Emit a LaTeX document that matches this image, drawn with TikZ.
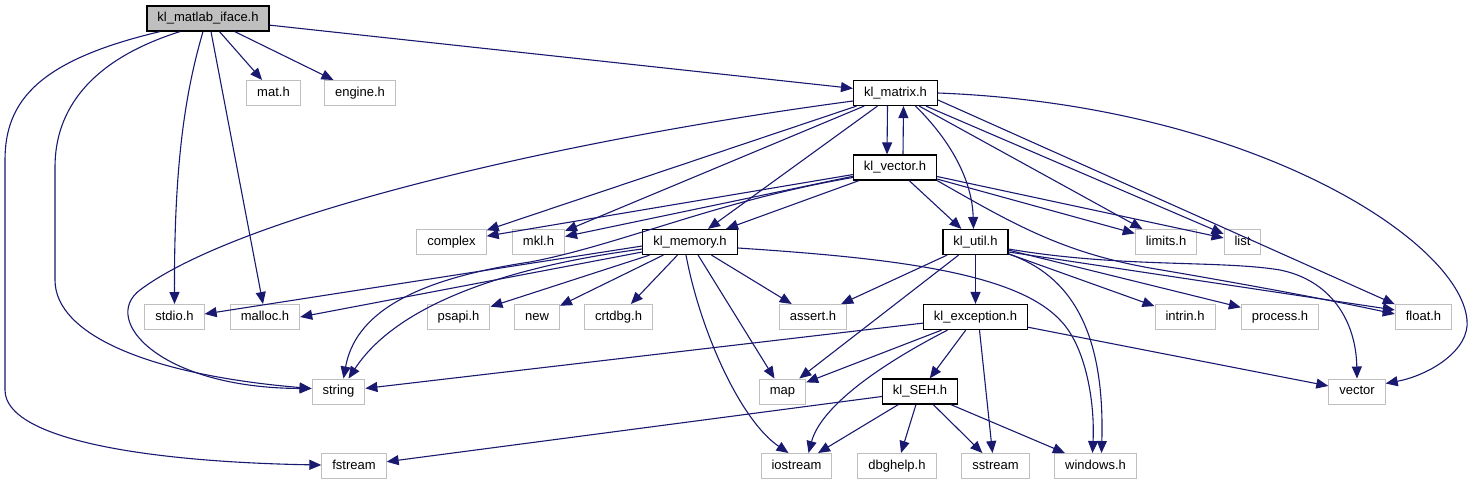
\documentclass[tikz,border=0pt]{standalone}
\usepackage{fontspec}
\setmainfont{Liberation Sans}
\usepackage{tikz}
\usetikzlibrary{arrows.meta}
\definecolor{igedge}{HTML}{191970}
\definecolor{iggray}{HTML}{BFBFBF}
\tikzset{
igfile/.style={rectangle,draw=black,line width=1.2pt,fill=white,inner xsep=10.5pt,inner ysep=0pt,minimum height=25pt,text height=9.4pt,text depth=2.7pt,font=\fontsize{13}{15}\selectfont},
igsys/.style={igfile,draw=iggray,line width=1pt},
igroot/.style={igfile,fill=iggray},
igarr/.style={-{Triangle[length=12pt,width=10pt]},igedge,line width=1.1pt}
}
\begin{document}
\begin{tikzpicture}[
x=1pt,
y=-1pt
]
\useasboundingbox (0,0) rectangle (1474,485);
\node[igroot] (iface) at (208,18.5) {kl\_matlab\_iface.h};
\node[igsys] (mat) at (273.5,93) {mat.h};
\node[igsys] (engine) at (360,93) {engine.h};
\node[igfile] (klmatrix) at (895.5,93) {kl\_matrix.h};
\node[igfile] (klvector) at (895,167.5) {kl\_vector.h};
\node[igsys] (complex) at (451.5,242) {complex};
\node[igsys] (mkl) at (538.5,242) {mkl.h};
\node[igfile] (klmemory) at (690,242) {kl\_memory.h};
\node[igfile] (klutil) at (975.5,242) {kl\_util.h};
\node[igsys] (limits) at (1166,242) {limits.h};
\node[igsys] (list) at (1242.5,242) {list};
\node[igsys] (stdio) at (174.5,317) {stdio.h};
\node[igsys] (malloc) at (265,317) {malloc.h};
\node[igsys] (psapi) at (458.5,317) {psapi.h};
\node[igsys] (new) at (537,317) {new};
\node[igsys] (crtdbg) at (618.5,317) {crtdbg.h};
\node[igsys] (assert) at (813,317) {assert.h};
\node[igfile] (klexception) at (975.5,317) {kl\_exception.h};
\node[igsys] (intrin) at (1185,317) {intrin.h};
\node[igsys] (process) at (1280,317) {process.h};
\node[igsys] (float) at (1423.5,317) {float.h};
\node[igsys] (string) at (338.5,391.5) {string};
\node[igsys] (map) at (782.5,391.5) {map};
\node[igfile] (klseh) at (920,391.5) {kl\_SEH.h};
\node[igsys] (vector) at (1357,391.5) {vector};
\node[igsys] (fstream) at (354,466) {fstream};
\node[igsys] (iostream) at (796.5,466) {iostream};
\node[igsys] (dbghelp) at (897,466) {dbghelp.h};
\node[igsys] (sstream) at (995.5,466) {sstream};
\node[igsys] (windows) at (1095.5,466) {windows.h};
\draw[igarr] (iface)--(klmatrix);
\draw[igarr] (iface)--(mat);
\draw[igarr] (iface)--(engine);
\draw[igarr] ([xshift=-5pt]iface.south) .. controls (186,90) and (174,160) .. (stdio.north);
\draw[igarr] ([xshift=3pt]iface.south) -- ([xshift=-2pt]malloc.north);
\draw[igarr] ([xshift=-28pt]iface.south) .. controls (90,60) and (55,110) .. (55,167) -- (55,280) .. controls (55,335) and (150,375) .. ([yshift=3pt]string.west);
\draw[igarr] ([xshift=-48pt]iface.south) .. controls (40,60) and (5,100) .. (5,160) -- (5,390) .. controls (5,440) and (150,462) .. ([yshift=1pt]fstream.west);
\draw[igarr] ([xshift=-8pt]klmatrix.south) -- ([xshift=-8pt]klvector.north);
\draw[igarr] ([xshift=8pt]klvector.north) -- ([xshift=8pt]klmatrix.south);
\draw[igarr] ([yshift=-8pt]klmatrix.west) .. controls (560,140) and (240,215) .. (140,290) .. controls (100,320) and (160,388) .. ([yshift=3pt]string.west);
\draw[igarr] (klmatrix)--(complex);
\draw[igarr] (klmatrix)--(mkl);
\draw[igarr] (klmatrix)--(klmemory);
\draw[igarr] ([xshift=20pt]klmatrix.south) .. controls (945,135) and (972,175) .. ([xshift=-2pt]klutil.north);
\draw[igarr] (klmatrix)--(limits);
\draw[igarr] (klmatrix)--(list);
\draw[igarr] ([yshift=-7pt]klmatrix.east)--(float);
\draw[igarr] (klmatrix.east) .. controls (1250,105) and (1460,240) .. (1467,320) .. controls (1470,350) and (1430,375) .. ([yshift=8pt]vector.east);
\draw[igarr] (klvector)--(complex);
\draw[igarr] (klvector)--(mkl);
\draw[igarr] (klvector)--(klmemory);
\draw[igarr] ([yshift=-10pt]klvector.west) .. controls (720,200) and (620,245) .. (530,262) .. controls (410,280) and (355,315) .. ([xshift=5pt]string.north);
\draw[igarr] (klvector)--(klutil);
\draw[igarr] (klvector)--(limits);
\draw[igarr] (klvector)--(list);
\draw[igarr] (klvector.south east) .. controls (1010,222) and (1060,252) .. (1150,268) .. controls (1250,285) and (1330,300) .. ([yshift=3pt]float.west);
\draw[igarr] ([yshift=-4pt]klmemory.west) -- ([yshift=3pt]stdio.east);
\draw[igarr] ([yshift=-10pt]klmemory.west) -- (malloc.east);
\draw[igarr] ([yshift=-7pt]klmemory.west) .. controls (520,265) and (400,300) .. ([xshift=10pt]string.north);
\draw[igarr] (klmemory)--(psapi);
\draw[igarr] (klmemory)--(new);
\draw[igarr] (klmemory)--(crtdbg);
\draw[igarr] (klmemory)--(assert);
\draw[igarr] (klmemory)--(map);
\draw[igarr] ([xshift=-4pt]klmemory.south) .. controls (700,330) and (740,420) .. ([xshift=-8pt]iostream.north);
\draw[igarr] ([yshift=-6pt]klmemory.east) .. controls (890,258) and (1015,272) .. (1060,320) .. controls (1085,345) and (1095,400) .. ([xshift=-3pt]windows.north);
\draw[igarr] (klutil)--(assert);
\draw[igarr] (klutil)--(map);
\draw[igarr] (klutil)--(klexception);
\draw[igarr] ([yshift=-12pt]klutil.east) .. controls (1070,275) and (1105,330) .. ([xshift=6pt]windows.north);
\draw[igarr] (klutil)--(intrin);
\draw[igarr] (klutil)--(process);
\draw[igarr] ([yshift=-10pt]klutil.east) -- ([yshift=7pt]float.west);
\draw[igarr] ([yshift=-7pt]klutil.east) .. controls (1120,268) and (1220,260) .. (1280,270) .. controls (1330,280) and (1356,320) .. (vector.north);
\draw[igarr] (klexception)--(string);
\draw[igarr] (klexception)--(map);
\draw[igarr] ([xshift=-28pt]klexception.south) .. controls (870,370) and (820,410) .. ([xshift=12pt]iostream.north);
\draw[igarr] (klexception)--(klseh);
\draw[igarr] ([xshift=4pt]klexception.south) -- ([xshift=-3pt]sstream.north);
\draw[igarr] (klexception)--(vector);
\draw[igarr] (klseh)--(fstream);
\draw[igarr] (klseh)--(iostream);
\draw[igarr] (klseh)--(dbghelp);
\draw[igarr] (klseh)--(sstream);
\draw[igarr] (klseh)--(windows);
\end{tikzpicture}
\end{document}
